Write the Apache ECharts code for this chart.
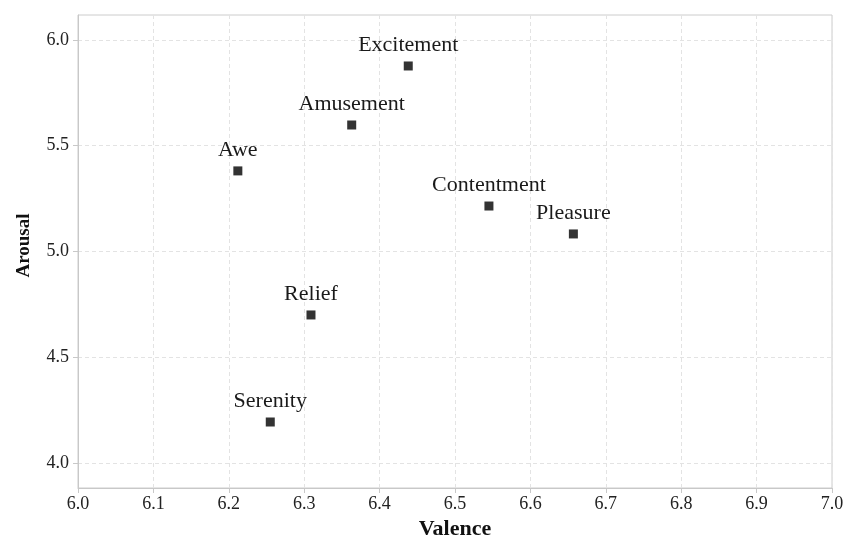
<!DOCTYPE html>
<html>
<head>
<meta charset="utf-8">
<script src="https://cdn.jsdelivr.net/npm/echarts@6/dist/echarts.min.js"></script>
<style>
  html, body { margin: 0; padding: 0; background: #fff; }
  #chart { width: 844px; height: 537px; }
</style>
</head>
<body>
<div id="chart"></div>
<script>
// Emotion categories and their mean valence / arousal ratings
var emotions = ['Excitement', 'Amusement', 'Awe', 'Contentment', 'Pleasure', 'Relief', 'Serenity'];
var valence  = [6.438, 6.363, 6.212, 6.545, 6.657, 6.309, 6.255];
var arousal  = [5.877, 5.598, 5.381, 5.215, 5.083, 4.700, 4.194];

// Tick values for the two axes
var valenceTicks = [6.0, 6.1, 6.2, 6.3, 6.4, 6.5, 6.6, 6.7, 6.8, 6.9, 7.0];
var arousalTicks = [4.0, 4.5, 5.0, 5.5, 6.0];

var FONT = "'Liberation Serif', 'Times New Roman', serif";

var points = emotions.map(function (name, i) {
  return { name: name, value: [valence[i], arousal[i]] };
});

var chart = echarts.init(document.getElementById('chart'));
chart.setOption({
  backgroundColor: '#ffffff',
  animation: false,
  grid: {
    left: 78, right: 12, top: 15, bottom: 49,
    outerBoundsMode: 'none',
    containLabel: false,
    show: true, borderColor: '#cccccc', borderWidth: 1, backgroundColor: 'transparent'
  },
  xAxis: {
    type: 'value',
    min: 6.0, max: 7.0, interval: 0.1,
    name: 'Valence',
    nameLocation: 'middle',
    nameGap: 29,
    nameTextStyle: { fontFamily: FONT, fontSize: 22, fontWeight: 'bold', color: '#111' },
    axisLine: { show: true, lineStyle: { color: '#c8c8c8', width: 1 } },
    axisTick: { show: true, length: 5, lineStyle: { color: '#c8c8c8' } },
    axisLabel: {
      fontFamily: FONT, fontSize: 18, color: '#222', margin: 7,
      formatter: function (v) { return v.toFixed(1); }
    },
    splitLine: { show: true, lineStyle: { color: '#e3e3e3', type: [4, 3], width: 1 } }
  },
  yAxis: {
    type: 'value',
    min: 3.882, max: 6.118,
    name: 'Arousal',
    nameLocation: 'middle',
    nameGap: 44,
    nameTextStyle: { fontFamily: FONT, fontSize: 19, fontWeight: 'bold', color: '#111', padding: [0, 0, 0, 12] },
    axisLine: { show: true, lineStyle: { color: '#c8c8c8', width: 1 } },
    axisTick: { show: true, length: 5, customValues: arousalTicks, lineStyle: { color: '#c8c8c8' } },
    axisLabel: {
      fontFamily: FONT, fontSize: 18, color: '#222', margin: 9,
      customValues: arousalTicks,
      formatter: function (v) { return Number(v).toFixed(1); }
    },
    splitLine: { show: true, lineStyle: { color: '#e3e3e3', type: [4, 3], width: 1 } }
  },
  series: [{
    type: 'scatter',
    symbol: 'rect',
    symbolSize: 9,
    itemStyle: { color: '#333333', opacity: 1 },
    data: points,
    label: {
      show: true,
      position: 'top',
      distance: 5,
      formatter: '{b}',
      fontFamily: FONT,
      fontSize: 22,
      color: '#1a1a1a'
    }
  }]
});
</script>
</body>
</html>
